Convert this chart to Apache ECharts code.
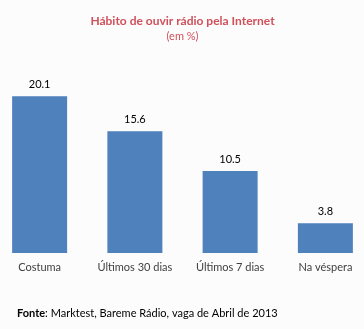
<!DOCTYPE html>
<html><head><meta charset="utf-8">
<script src="https://cdn.jsdelivr.net/npm/echarts@6/dist/echarts.min.js"></script>
<style>html,body{margin:0;padding:0;background:#fcfcfc;overflow:hidden}#c{width:381px;height:329px;margin-left:-8px}</style>
</head><body><div id="c"></div>
<script>
const categories = ['Costuma', 'Últimos 30 dias', 'Últimos 7 dias', 'Na véspera'];
const values = [20.1, 15.6, 10.5, 3.8];
const titleText = 'Hábito de ouvir rádio pela Internet';
const subtitleText = '(em %)';
const sourceLabel = 'Fonte';
const sourceText = ': Marktest, Bareme Rádio, vaga de Abril de 2013';

const font = 'Lato, "Open Sans", sans-serif';
const chart = echarts.init(document.getElementById('c'));
chart.setOption({
  backgroundColor: '#fcfcfc',
  animation: false,
  title: {
    text: titleText,
    subtext: subtitleText,
    left: 'center', top: 10, itemGap: 4,
    textStyle: {color: '#d0505a', fontSize: 12, fontWeight: 'bold', fontFamily: font},
    subtextStyle: {color: '#d0505a', fontSize: 11, fontFamily: font}
  },
  grid: {left: 0, right: 0, top: 58, bottom: 76, containLabel: false},
  xAxis: {
    type: 'category', data: categories,
    axisLine: {show: false}, axisTick: {show: false},
    axisLabel: {color: '#404040', fontSize: 11, fontFamily: font, margin: 9, interval: 0}
  },
  yAxis: {type: 'value', min: 0, max: 25, show: false, splitLine: {show: false}},
  series: [{
    type: 'bar', data: values, barWidth: 55,
    itemStyle: {color: '#4f81bd'},
    label: {show: true, position: 'top', distance: 6, color: '#000', fontSize: 11, fontFamily: font,
      formatter: p => p.value.toFixed(1)}
  }],
  graphic: [{
    type: 'text', left: 25, top: 308,
    style: {
      text: '{b|' + sourceLabel + '}' + sourceText,
      fill: '#000', fontSize: 11, fontFamily: font,
      rich: {b: {fontWeight: 'bold', fontSize: 11, fontFamily: font, fill: '#000'}}
    }
  }]
});
</script></body></html>
